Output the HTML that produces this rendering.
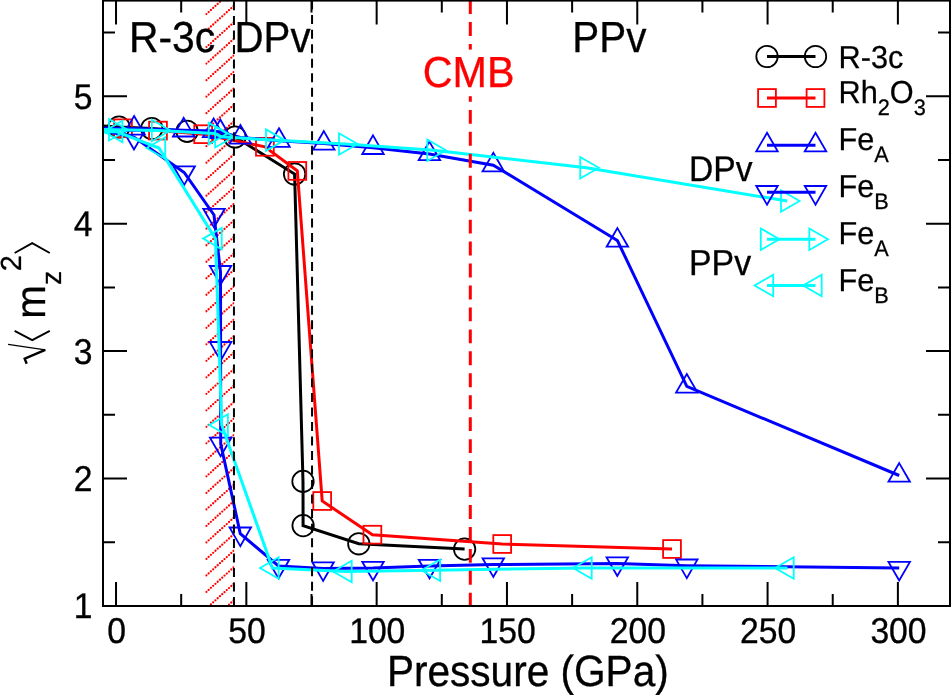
<!DOCTYPE html>
<html><head><meta charset="utf-8"><style>html,body{margin:0;padding:0;background:#fff;overflow:hidden}svg{display:block;will-change:transform}text{text-rendering:geometricPrecision;font-family:"Liberation Sans",sans-serif}</style></head><body>
<svg width="951" height="695" viewBox="0 0 951 695">
<defs><clipPath id="pc"><rect x="103" y="0" width="847" height="606"/></clipPath><clipPath id="hc"><rect x="205.3" y="0" width="29" height="606"/></clipPath></defs>
<rect width="951" height="695" fill="#fff"/>
<g clip-path="url(#hc)" stroke="#ff0000" stroke-width="2.3" stroke-dasharray="0 3.05" stroke-linecap="round" fill="none">
<line x1="206.37" y1="-18.93" x2="236.0" y2="-45.60"/>
<line x1="206.37" y1="-2.42" x2="236.0" y2="-29.09"/>
<line x1="206.37" y1="14.09" x2="236.0" y2="-12.58"/>
<line x1="206.37" y1="30.60" x2="236.0" y2="3.93"/>
<line x1="206.37" y1="47.11" x2="236.0" y2="20.44"/>
<line x1="206.37" y1="63.62" x2="236.0" y2="36.95"/>
<line x1="206.37" y1="80.13" x2="236.0" y2="53.46"/>
<line x1="206.37" y1="96.64" x2="236.0" y2="69.97"/>
<line x1="206.37" y1="113.15" x2="236.0" y2="86.48"/>
<line x1="206.37" y1="129.66" x2="236.0" y2="102.99"/>
<line x1="206.37" y1="146.17" x2="236.0" y2="119.50"/>
<line x1="206.37" y1="162.68" x2="236.0" y2="136.01"/>
<line x1="206.37" y1="179.19" x2="236.0" y2="152.52"/>
<line x1="206.37" y1="195.70" x2="236.0" y2="169.03"/>
<line x1="206.37" y1="212.21" x2="236.0" y2="185.54"/>
<line x1="206.37" y1="228.72" x2="236.0" y2="202.05"/>
<line x1="206.37" y1="245.23" x2="236.0" y2="218.56"/>
<line x1="206.37" y1="261.74" x2="236.0" y2="235.07"/>
<line x1="206.37" y1="278.25" x2="236.0" y2="251.58"/>
<line x1="206.37" y1="294.76" x2="236.0" y2="268.09"/>
<line x1="206.37" y1="311.27" x2="236.0" y2="284.60"/>
<line x1="206.37" y1="327.78" x2="236.0" y2="301.11"/>
<line x1="206.37" y1="344.29" x2="236.0" y2="317.62"/>
<line x1="206.37" y1="360.80" x2="236.0" y2="334.13"/>
<line x1="206.37" y1="377.31" x2="236.0" y2="350.64"/>
<line x1="206.37" y1="393.82" x2="236.0" y2="367.15"/>
<line x1="206.37" y1="410.33" x2="236.0" y2="383.66"/>
<line x1="206.37" y1="426.84" x2="236.0" y2="400.17"/>
<line x1="206.37" y1="443.35" x2="236.0" y2="416.68"/>
<line x1="206.37" y1="459.86" x2="236.0" y2="433.19"/>
<line x1="206.37" y1="476.37" x2="236.0" y2="449.70"/>
<line x1="206.37" y1="492.88" x2="236.0" y2="466.21"/>
<line x1="206.37" y1="509.39" x2="236.0" y2="482.72"/>
<line x1="206.37" y1="525.90" x2="236.0" y2="499.23"/>
<line x1="206.37" y1="542.41" x2="236.0" y2="515.74"/>
<line x1="206.37" y1="558.92" x2="236.0" y2="532.25"/>
<line x1="206.37" y1="575.43" x2="236.0" y2="548.76"/>
<line x1="206.37" y1="591.94" x2="236.0" y2="565.27"/>
<line x1="206.37" y1="608.45" x2="236.0" y2="581.78"/>
<line x1="206.37" y1="624.96" x2="236.0" y2="598.29"/>
<line x1="206.37" y1="641.47" x2="236.0" y2="614.80"/>
<line x1="206.37" y1="657.98" x2="236.0" y2="631.31"/>
</g>
<g clip-path="url(#pc)">
<path d="M90.00,125.00 L119.00,127.00 L151.80,128.50 L187.10,131.30 L235.00,137.00 L294.60,174.00 L303.00,481.40 L303.10,525.60 L358.80,543.80 L464.60,549.10" fill="none" stroke="#000000" stroke-width="3.0" stroke-linejoin="miter"/>
<circle cx="119.00" cy="127.00" r="10.7" fill="none" stroke="#000000" stroke-width="1.8"/>
<circle cx="151.80" cy="128.50" r="10.7" fill="none" stroke="#000000" stroke-width="1.8"/>
<circle cx="187.10" cy="131.30" r="10.7" fill="none" stroke="#000000" stroke-width="1.8"/>
<circle cx="235.00" cy="137.00" r="10.7" fill="none" stroke="#000000" stroke-width="1.8"/>
<circle cx="294.60" cy="174.00" r="10.7" fill="none" stroke="#000000" stroke-width="1.8"/>
<circle cx="303.00" cy="481.40" r="10.7" fill="none" stroke="#000000" stroke-width="1.8"/>
<circle cx="303.10" cy="525.60" r="10.7" fill="none" stroke="#000000" stroke-width="1.8"/>
<circle cx="358.80" cy="543.80" r="10.7" fill="none" stroke="#000000" stroke-width="1.8"/>
<circle cx="464.60" cy="549.10" r="10.7" fill="none" stroke="#000000" stroke-width="1.8"/>
</g>
<g clip-path="url(#pc)">
<path d="M123.00,128.30 L158.00,130.60 L203.20,134.20 L264.90,146.80 L297.30,170.90 L322.20,501.00 L372.40,534.70 L502.20,544.00 L672.00,549.00" fill="none" stroke="#ff0000" stroke-width="3.0" stroke-linejoin="miter"/>
<rect x="114.10" y="119.40" width="17.80" height="17.80" fill="none" stroke="#ff0000" stroke-width="1.8"/>
<rect x="149.10" y="121.70" width="17.80" height="17.80" fill="none" stroke="#ff0000" stroke-width="1.8"/>
<rect x="194.30" y="125.30" width="17.80" height="17.80" fill="none" stroke="#ff0000" stroke-width="1.8"/>
<rect x="256.00" y="137.90" width="17.80" height="17.80" fill="none" stroke="#ff0000" stroke-width="1.8"/>
<rect x="288.40" y="162.00" width="17.80" height="17.80" fill="none" stroke="#ff0000" stroke-width="1.8"/>
<rect x="313.30" y="492.10" width="17.80" height="17.80" fill="none" stroke="#ff0000" stroke-width="1.8"/>
<rect x="363.50" y="525.80" width="17.80" height="17.80" fill="none" stroke="#ff0000" stroke-width="1.8"/>
<rect x="493.30" y="535.10" width="17.80" height="17.80" fill="none" stroke="#ff0000" stroke-width="1.8"/>
<rect x="663.10" y="540.10" width="17.80" height="17.80" fill="none" stroke="#ff0000" stroke-width="1.8"/>
</g>
<g clip-path="url(#pc)">
<path d="M90.00,127.80 L134.10,128.40 L183.70,130.30 L213.60,130.90 L220.30,131.90 L240.40,137.40 L279.00,140.70 L323.80,143.50 L373.00,147.80 L429.40,154.00 L493.30,165.20 L617.40,240.50 L686.80,386.40 L899.20,475.50" fill="none" stroke="#0000ff" stroke-width="3.0" stroke-linejoin="miter"/>
<polygon points="134.10,116.00 144.84,134.60 123.36,134.60" fill="none" stroke="#0000ff" stroke-width="1.8" stroke-linejoin="miter"/>
<polygon points="183.70,117.90 194.44,136.50 172.96,136.50" fill="none" stroke="#0000ff" stroke-width="1.8" stroke-linejoin="miter"/>
<polygon points="213.60,118.50 224.34,137.10 202.86,137.10" fill="none" stroke="#0000ff" stroke-width="1.8" stroke-linejoin="miter"/>
<polygon points="220.30,119.50 231.04,138.10 209.56,138.10" fill="none" stroke="#0000ff" stroke-width="1.8" stroke-linejoin="miter"/>
<polygon points="240.40,125.00 251.14,143.60 229.66,143.60" fill="none" stroke="#0000ff" stroke-width="1.8" stroke-linejoin="miter"/>
<polygon points="279.00,128.30 289.74,146.90 268.26,146.90" fill="none" stroke="#0000ff" stroke-width="1.8" stroke-linejoin="miter"/>
<polygon points="323.80,131.10 334.54,149.70 313.06,149.70" fill="none" stroke="#0000ff" stroke-width="1.8" stroke-linejoin="miter"/>
<polygon points="373.00,135.40 383.74,154.00 362.26,154.00" fill="none" stroke="#0000ff" stroke-width="1.8" stroke-linejoin="miter"/>
<polygon points="429.40,141.60 440.14,160.20 418.66,160.20" fill="none" stroke="#0000ff" stroke-width="1.8" stroke-linejoin="miter"/>
<polygon points="493.30,152.80 504.04,171.40 482.56,171.40" fill="none" stroke="#0000ff" stroke-width="1.8" stroke-linejoin="miter"/>
<polygon points="617.40,228.10 628.14,246.70 606.66,246.70" fill="none" stroke="#0000ff" stroke-width="1.8" stroke-linejoin="miter"/>
<polygon points="686.80,374.00 697.54,392.60 676.06,392.60" fill="none" stroke="#0000ff" stroke-width="1.8" stroke-linejoin="miter"/>
<polygon points="899.20,463.10 909.94,481.70 888.46,481.70" fill="none" stroke="#0000ff" stroke-width="1.8" stroke-linejoin="miter"/>
</g>
<g clip-path="url(#pc)">
<path d="M90.00,128.00 L134.00,137.10 L184.20,172.50 L214.00,215.00 L220.50,272.20 L220.60,348.20 L220.70,443.90 L240.30,533.70 L278.50,566.00 L323.10,568.50 L373.00,568.00 L429.50,566.00 L493.30,564.50 L617.30,563.60 L686.80,565.70 L899.20,568.10" fill="none" stroke="#0000ff" stroke-width="3.0" stroke-linejoin="miter"/>
<polygon points="134.00,149.50 123.26,130.90 144.74,130.90" fill="none" stroke="#0000ff" stroke-width="1.8" stroke-linejoin="miter"/>
<polygon points="184.20,184.90 173.46,166.30 194.94,166.30" fill="none" stroke="#0000ff" stroke-width="1.8" stroke-linejoin="miter"/>
<polygon points="214.00,227.40 203.26,208.80 224.74,208.80" fill="none" stroke="#0000ff" stroke-width="1.8" stroke-linejoin="miter"/>
<polygon points="220.50,284.60 209.76,266.00 231.24,266.00" fill="none" stroke="#0000ff" stroke-width="1.8" stroke-linejoin="miter"/>
<polygon points="220.60,360.60 209.86,342.00 231.34,342.00" fill="none" stroke="#0000ff" stroke-width="1.8" stroke-linejoin="miter"/>
<polygon points="220.70,456.30 209.96,437.70 231.44,437.70" fill="none" stroke="#0000ff" stroke-width="1.8" stroke-linejoin="miter"/>
<polygon points="240.30,546.10 229.56,527.50 251.04,527.50" fill="none" stroke="#0000ff" stroke-width="1.8" stroke-linejoin="miter"/>
<polygon points="278.50,578.40 267.76,559.80 289.24,559.80" fill="none" stroke="#0000ff" stroke-width="1.8" stroke-linejoin="miter"/>
<polygon points="323.10,580.90 312.36,562.30 333.84,562.30" fill="none" stroke="#0000ff" stroke-width="1.8" stroke-linejoin="miter"/>
<polygon points="373.00,580.40 362.26,561.80 383.74,561.80" fill="none" stroke="#0000ff" stroke-width="1.8" stroke-linejoin="miter"/>
<polygon points="429.50,578.40 418.76,559.80 440.24,559.80" fill="none" stroke="#0000ff" stroke-width="1.8" stroke-linejoin="miter"/>
<polygon points="493.30,576.90 482.56,558.30 504.04,558.30" fill="none" stroke="#0000ff" stroke-width="1.8" stroke-linejoin="miter"/>
<polygon points="617.30,576.00 606.56,557.40 628.04,557.40" fill="none" stroke="#0000ff" stroke-width="1.8" stroke-linejoin="miter"/>
<polygon points="686.80,578.10 676.06,559.50 697.54,559.50" fill="none" stroke="#0000ff" stroke-width="1.8" stroke-linejoin="miter"/>
<polygon points="899.20,580.50 888.46,561.90 909.94,561.90" fill="none" stroke="#0000ff" stroke-width="1.8" stroke-linejoin="miter"/>
</g>
<g clip-path="url(#pc)">
<path d="M90.00,129.20 L115.20,129.70 L158.00,130.50 L214.90,133.60 L221.40,136.70 L272.20,140.10 L345.20,144.00 L433.50,150.30 L586.40,167.70 L787.20,201.00" fill="none" stroke="#00ffff" stroke-width="3.0" stroke-linejoin="miter"/>
<polygon points="127.60,129.70 109.00,140.44 109.00,118.96" fill="none" stroke="#00ffff" stroke-width="1.8" stroke-linejoin="miter"/>
<polygon points="170.40,130.50 151.80,141.24 151.80,119.76" fill="none" stroke="#00ffff" stroke-width="1.8" stroke-linejoin="miter"/>
<polygon points="227.30,133.60 208.70,144.34 208.70,122.86" fill="none" stroke="#00ffff" stroke-width="1.8" stroke-linejoin="miter"/>
<polygon points="233.80,136.70 215.20,147.44 215.20,125.96" fill="none" stroke="#00ffff" stroke-width="1.8" stroke-linejoin="miter"/>
<polygon points="284.60,140.10 266.00,150.84 266.00,129.36" fill="none" stroke="#00ffff" stroke-width="1.8" stroke-linejoin="miter"/>
<polygon points="357.60,144.00 339.00,154.74 339.00,133.26" fill="none" stroke="#00ffff" stroke-width="1.8" stroke-linejoin="miter"/>
<polygon points="445.90,150.30 427.30,161.04 427.30,139.56" fill="none" stroke="#00ffff" stroke-width="1.8" stroke-linejoin="miter"/>
<polygon points="598.80,167.70 580.20,178.44 580.20,156.96" fill="none" stroke="#00ffff" stroke-width="1.8" stroke-linejoin="miter"/>
<polygon points="799.60,201.00 781.00,211.74 781.00,190.26" fill="none" stroke="#00ffff" stroke-width="1.8" stroke-linejoin="miter"/>
</g>
<g clip-path="url(#pc)">
<path d="M90.00,133.00 L116.20,131.50 L159.00,148.00 L215.50,238.60 L221.70,425.00 L272.40,568.00 L345.50,571.50 L433.90,570.20 L585.50,568.00 L787.50,568.00" fill="none" stroke="#00ffff" stroke-width="3.0" stroke-linejoin="miter"/>
<polygon points="103.80,131.50 122.40,120.76 122.40,142.24" fill="none" stroke="#00ffff" stroke-width="1.8" stroke-linejoin="miter"/>
<polygon points="146.60,148.00 165.20,137.26 165.20,158.74" fill="none" stroke="#00ffff" stroke-width="1.8" stroke-linejoin="miter"/>
<polygon points="203.10,238.60 221.70,227.86 221.70,249.34" fill="none" stroke="#00ffff" stroke-width="1.8" stroke-linejoin="miter"/>
<polygon points="209.30,425.00 227.90,414.26 227.90,435.74" fill="none" stroke="#00ffff" stroke-width="1.8" stroke-linejoin="miter"/>
<polygon points="260.00,568.00 278.60,557.26 278.60,578.74" fill="none" stroke="#00ffff" stroke-width="1.8" stroke-linejoin="miter"/>
<polygon points="333.10,571.50 351.70,560.76 351.70,582.24" fill="none" stroke="#00ffff" stroke-width="1.8" stroke-linejoin="miter"/>
<polygon points="421.50,570.20 440.10,559.46 440.10,580.94" fill="none" stroke="#00ffff" stroke-width="1.8" stroke-linejoin="miter"/>
<polygon points="573.10,568.00 591.70,557.26 591.70,578.74" fill="none" stroke="#00ffff" stroke-width="1.8" stroke-linejoin="miter"/>
<polygon points="775.10,568.00 793.70,557.26 793.70,578.74" fill="none" stroke="#00ffff" stroke-width="1.8" stroke-linejoin="miter"/>
</g>
<line x1="233.95" y1="1.37" x2="233.95" y2="606" stroke="#000" stroke-width="2" stroke-dasharray="9 5.53"/>
<line x1="312.05" y1="0.57" x2="312.05" y2="606" stroke="#000" stroke-width="2" stroke-dasharray="9 5.53"/>
<line x1="470.3" y1="0.15" x2="470.3" y2="606" stroke="#ff0000" stroke-width="3" stroke-dasharray="13.9 8.05"/>
<rect x="418" y="49.6" width="100" height="46.6" fill="#fff"/>
<text transform="translate(128.90,52.00) scale(1,1.0590)" x="0" y="0" font-family="Liberation Sans" font-size="40.9" fill="#000" stroke="#000" stroke-width="0.3" text-anchor="start" >R-3c</text>
<text transform="translate(234.50,52.10) scale(1,1.0800)" x="0" y="0" font-family="Liberation Sans" font-size="40.25" fill="#000" stroke="#000" stroke-width="0.3" text-anchor="start" >DPv</text>
<text transform="translate(572.30,52.10) scale(1,1.0780)" x="0" y="0" font-family="Liberation Sans" font-size="40.4" fill="#000" stroke="#000" stroke-width="0.3" text-anchor="start" >PPv</text>
<text transform="translate(422.80,87.00) scale(1,1.0520)" x="0" y="0" font-family="Liberation Sans" font-size="41.3" fill="#ff0000" stroke="#ff0000" stroke-width="0.3" text-anchor="start" >CMB</text>
<text transform="translate(689.10,180.50) scale(1,1.0640)" x="0" y="0" font-family="Liberation Sans" font-size="33.6" fill="#000" stroke="#000" stroke-width="0.3" text-anchor="start" >DPv</text>
<text transform="translate(689.00,274.80) scale(1,1.0660)" x="0" y="0" font-family="Liberation Sans" font-size="33.9" fill="#000" stroke="#000" stroke-width="0.3" text-anchor="start" >PPv</text>
<rect x="103" y="0.6" width="847" height="605.4" fill="none" stroke="#000" stroke-width="2"/>
<path d="M116.03,606 V582 M116.03,0.6 V24.6 M181.19,606 V594 M181.19,0.6 V12.6 M246.34,606 V582 M246.34,0.6 V24.6 M311.50,606 V594 M311.50,0.6 V12.6 M376.65,606 V582 M376.65,0.6 V24.6 M441.80,606 V594 M441.80,0.6 V12.6 M506.96,606 V582 M506.96,0.6 V24.6 M572.12,606 V594 M572.12,0.6 V12.6 M637.27,606 V582 M637.27,0.6 V24.6 M702.42,606 V594 M702.42,0.6 V12.6 M767.58,606 V582 M767.58,0.6 V24.6 M832.73,606 V594 M832.73,0.6 V12.6 M897.89,606 V582 M897.89,0.6 V24.6 M103,542.27 H115 M950,542.27 H938 M103,478.55 H127 M950,478.55 H926 M103,414.82 H115 M950,414.82 H938 M103,351.10 H127 M950,351.10 H926 M103,287.38 H115 M950,287.38 H938 M103,223.65 H127 M950,223.65 H926 M103,159.93 H115 M950,159.93 H938 M103,96.20 H127 M950,96.20 H926 M103,32.48 H115 M950,32.48 H938" stroke="#000" stroke-width="2" fill="none"/>
<text transform="translate(116.63,643.30) scale(1,1.0620)" x="0" y="0" font-family="Liberation Sans" font-size="33.7" fill="#000" stroke="#000" stroke-width="0.3" text-anchor="middle" >0</text>
<text transform="translate(246.94,643.30) scale(1,1.0620)" x="0" y="0" font-family="Liberation Sans" font-size="33.7" fill="#000" stroke="#000" stroke-width="0.3" text-anchor="middle" >50</text>
<text transform="translate(377.25,643.30) scale(1,1.0620)" x="0" y="0" font-family="Liberation Sans" font-size="33.7" fill="#000" stroke="#000" stroke-width="0.3" text-anchor="middle" >100</text>
<text transform="translate(507.56,643.30) scale(1,1.0620)" x="0" y="0" font-family="Liberation Sans" font-size="33.7" fill="#000" stroke="#000" stroke-width="0.3" text-anchor="middle" >150</text>
<text transform="translate(637.87,643.30) scale(1,1.0620)" x="0" y="0" font-family="Liberation Sans" font-size="33.7" fill="#000" stroke="#000" stroke-width="0.3" text-anchor="middle" >200</text>
<text transform="translate(768.18,643.30) scale(1,1.0620)" x="0" y="0" font-family="Liberation Sans" font-size="33.7" fill="#000" stroke="#000" stroke-width="0.3" text-anchor="middle" >250</text>
<text transform="translate(898.49,643.30) scale(1,1.0620)" x="0" y="0" font-family="Liberation Sans" font-size="33.7" fill="#000" stroke="#000" stroke-width="0.3" text-anchor="middle" >300</text>
<text transform="translate(92.60,618.40) scale(1,1.0620)" x="0" y="0" font-family="Liberation Sans" font-size="33.7" fill="#000" stroke="#000" stroke-width="0.3" text-anchor="end" >1</text>
<text transform="translate(92.60,490.95) scale(1,1.0620)" x="0" y="0" font-family="Liberation Sans" font-size="33.7" fill="#000" stroke="#000" stroke-width="0.3" text-anchor="end" >2</text>
<text transform="translate(92.60,363.50) scale(1,1.0620)" x="0" y="0" font-family="Liberation Sans" font-size="33.7" fill="#000" stroke="#000" stroke-width="0.3" text-anchor="end" >3</text>
<text transform="translate(92.60,236.05) scale(1,1.0620)" x="0" y="0" font-family="Liberation Sans" font-size="33.7" fill="#000" stroke="#000" stroke-width="0.3" text-anchor="end" >4</text>
<text transform="translate(92.60,108.60) scale(1,1.0620)" x="0" y="0" font-family="Liberation Sans" font-size="33.7" fill="#000" stroke="#000" stroke-width="0.3" text-anchor="end" >5</text>
<text transform="translate(386.90,686.30) scale(1,1.0750)" x="0" y="0" font-family="Liberation Sans" font-size="40.6" fill="#000" stroke="#000" stroke-width="0.3" text-anchor="start" >Pressure (GPa)</text>
<text transform="translate(45.0,318.7) rotate(-90) scale(1,1.037)" font-family="Liberation Sans" font-size="40.5" stroke="#000" stroke-width="0.3">m</text>
<text transform="translate(60.9,285.1) rotate(-90)" font-family="Liberation Sans" font-size="28.5" stroke="#000" stroke-width="0.25">z</text>
<text transform="translate(20.6,271.3) rotate(-90)" font-family="Liberation Sans" font-size="29" stroke="#000" stroke-width="0.25">2</text>
<path d="M14.6,253 L32.2,243.1 L49.8,253" fill="none" stroke="#000" stroke-width="1.9"/>
<path d="M14.6,330.9 L32.2,340.2 L49.8,330.9" fill="none" stroke="#000" stroke-width="1.9"/>
<path d="M8.1,344.4 L45.3,349.8" fill="none" stroke="#000" stroke-width="1.3"/>
<path d="M45.3,349.8 L24.7,358.7 L26.7,363.7" fill="none" stroke="#000" stroke-width="2.4"/>
<line x1="767" y1="56.5" x2="815.5" y2="56.5" stroke="#000" stroke-width="3.0"/>
<circle cx="767.00" cy="56.50" r="10.7" fill="none" stroke="#000" stroke-width="1.8"/>
<circle cx="815.50" cy="56.50" r="10.7" fill="none" stroke="#000" stroke-width="1.8"/>
<line x1="767" y1="98" x2="815.5" y2="98" stroke="#ff0000" stroke-width="3.0"/>
<rect x="758.10" y="89.10" width="17.80" height="17.80" fill="none" stroke="#ff0000" stroke-width="1.8"/>
<rect x="806.60" y="89.10" width="17.80" height="17.80" fill="none" stroke="#ff0000" stroke-width="1.8"/>
<line x1="767" y1="145.2" x2="815.5" y2="145.2" stroke="#0000ff" stroke-width="3.0"/>
<polygon points="767.00,132.80 777.74,151.40 756.26,151.40" fill="none" stroke="#0000ff" stroke-width="1.8" stroke-linejoin="miter"/>
<polygon points="815.50,132.80 826.24,151.40 804.76,151.40" fill="none" stroke="#0000ff" stroke-width="1.8" stroke-linejoin="miter"/>
<line x1="767" y1="192.2" x2="815.5" y2="192.2" stroke="#0000ff" stroke-width="3.0"/>
<polygon points="767.00,204.60 756.26,186.00 777.74,186.00" fill="none" stroke="#0000ff" stroke-width="1.8" stroke-linejoin="miter"/>
<polygon points="815.50,204.60 804.76,186.00 826.24,186.00" fill="none" stroke="#0000ff" stroke-width="1.8" stroke-linejoin="miter"/>
<line x1="767" y1="239.2" x2="815.5" y2="239.2" stroke="#00ffff" stroke-width="3.0"/>
<polygon points="779.40,239.20 760.80,249.94 760.80,228.46" fill="none" stroke="#00ffff" stroke-width="1.8" stroke-linejoin="miter"/>
<polygon points="827.90,239.20 809.30,249.94 809.30,228.46" fill="none" stroke="#00ffff" stroke-width="1.8" stroke-linejoin="miter"/>
<line x1="767" y1="285.5" x2="815.5" y2="285.5" stroke="#00ffff" stroke-width="3.0"/>
<polygon points="754.60,285.50 773.20,274.76 773.20,296.24" fill="none" stroke="#00ffff" stroke-width="1.8" stroke-linejoin="miter"/>
<polygon points="803.10,285.50 821.70,274.76 821.70,296.24" fill="none" stroke="#00ffff" stroke-width="1.8" stroke-linejoin="miter"/>
<text transform="translate(838.5,67.6) scale(1,1.035)" x="0" y="0" font-family="Liberation Sans" font-size="30.7" stroke="#000" stroke-width="0.25">R-3c</text>
<text transform="translate(838.5,102.9) scale(1,1.035)" x="0" y="0" font-family="Liberation Sans" font-size="30.7" stroke="#000" stroke-width="0.25">Rh<tspan font-size="21.7" dy="11.9">2</tspan><tspan dy="-11.9">O</tspan><tspan font-size="21.7" dy="11.9">3</tspan></text>
<text transform="translate(838.5,150.4) scale(1,1.035)" x="0" y="0" font-family="Liberation Sans" font-size="30.7" stroke="#000" stroke-width="0.25">Fe<tspan font-size="21.7" dy="11.6">A</tspan></text>
<text transform="translate(838.5,197.2) scale(1,1.035)" x="0" y="0" font-family="Liberation Sans" font-size="30.7" stroke="#000" stroke-width="0.25">Fe<tspan font-size="21.7" dy="11.6">B</tspan></text>
<text transform="translate(838.5,244.0) scale(1,1.035)" x="0" y="0" font-family="Liberation Sans" font-size="30.7" stroke="#000" stroke-width="0.25">Fe<tspan font-size="21.7" dy="11.6">A</tspan></text>
<text transform="translate(838.5,291.0) scale(1,1.035)" x="0" y="0" font-family="Liberation Sans" font-size="30.7" stroke="#000" stroke-width="0.25">Fe<tspan font-size="21.7" dy="11.6">B</tspan></text>
</svg>
</body></html>
